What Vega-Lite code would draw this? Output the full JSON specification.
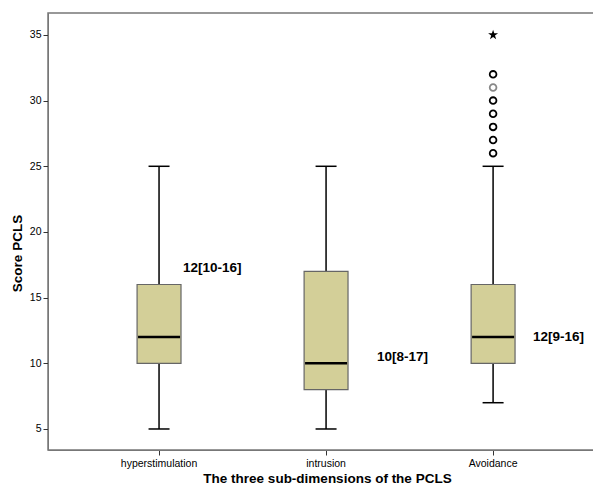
{
  "$schema": "https://vega.github.io/schema/vega-lite/v6.json",
  "width": 547,
  "height": 437,
  "autosize": {"type": "none"},
  "padding": {"left": 48, "top": 13, "right": 0, "bottom": 37},
  "background": "white",
  "config": {
    "view": {"stroke": "#777", "strokeWidth": 1.5},
    "font": "Liberation Sans",
    "axis": {"domainColor": "#777", "tickColor": "#333", "labelColor": "#000", "titleColor": "#000", "grid": false, "labelFont": "Liberation Sans", "titleFont": "Liberation Sans"}
  },
  "datasets": {
    "boxes": [
      {"dim": "hyperstimulation", "lower": 5, "q1": 10, "median": 12, "q3": 16, "upper": 25},
      {"dim": "intrusion", "lower": 5, "q1": 8, "median": 10, "q3": 17, "upper": 25},
      {"dim": "Avoidance", "lower": 7, "q1": 10, "median": 12, "q3": 16, "upper": 25}
    ],
    "outliers": [
      {"dim": "Avoidance", "value": 26, "kind": "outlier"},
      {"dim": "Avoidance", "value": 27, "kind": "outlier"},
      {"dim": "Avoidance", "value": 28, "kind": "outlier"},
      {"dim": "Avoidance", "value": 29, "kind": "outlier"},
      {"dim": "Avoidance", "value": 30, "kind": "outlier"},
      {"dim": "Avoidance", "value": 31, "kind": "faint"},
      {"dim": "Avoidance", "value": 32, "kind": "outlier"},
      {"dim": "Avoidance", "value": 35, "kind": "extreme"}
    ],
    "labels": [
      {"dim": "hyperstimulation", "label": "12[10-16]", "y": 17.25},
      {"dim": "intrusion", "label": "10[8-17]", "y": 10.47},
      {"dim": "Avoidance", "label": "12[9-16]", "y": 12}
    ]
  },
  "data": {"name": "boxes"},
  "encoding": {
    "x": {
      "field": "dim", "type": "nominal", "sort": ["hyperstimulation", "intrusion", "Avoidance"],
      "scale": {"paddingInner": 0.737, "paddingOuter": 0.506, "align": 0.527},
      "axis": {"title": "The three sub-dimensions of the PCLS", "labelAngle": 0, "labelFontSize": 10.5, "labelPadding": 3, "tickSize": 5, "titleFontSize": 13.5, "titleFontWeight": "bold", "titlePadding": 3, "titleX": 279, "titleAnchor": "middle"}
    },
    "y": {
      "type": "quantitative",
      "scale": {"domain": [3.4, 36.67], "nice": false, "zero": false},
      "axis": {"title": "Score PCLS", "values": [5, 10, 15, 20, 25, 30, 35], "labelFontSize": 10.5, "tickSize": 5, "labelPadding": 2, "titleFontSize": 13.5, "titleFontWeight": "bold", "titlePadding": 5, "titleY": 240}
    }
  },
  "layer": [
    {"mark": {"type": "rule", "color": "#000", "strokeWidth": 1.5}, "encoding": {"y": {"field": "lower", "type": "quantitative"}, "y2": {"field": "q1"}}},
    {"mark": {"type": "rule", "color": "#000", "strokeWidth": 1.5}, "encoding": {"y": {"field": "q3", "type": "quantitative"}, "y2": {"field": "upper"}}},
    {"mark": {"type": "tick", "color": "#000", "size": 21, "thickness": 1.5, "opacity": 1}, "encoding": {"y": {"field": "lower", "type": "quantitative"}}},
    {"mark": {"type": "tick", "color": "#000", "size": 21, "thickness": 1.5, "opacity": 1}, "encoding": {"y": {"field": "upper", "type": "quantitative"}}},
    {"mark": {"type": "bar", "fill": "#d3cf98", "stroke": "#666", "strokeWidth": 1.2}, "encoding": {"y": {"field": "q1", "type": "quantitative"}, "y2": {"field": "q3"}}},
    {"mark": {"type": "tick", "color": "#000", "size": 42, "thickness": 2.5, "opacity": 1}, "encoding": {"y": {"field": "median", "type": "quantitative"}}},
    {
      "data": {"name": "outliers"},
      "transform": [{"filter": "datum.kind !== 'extreme'"}],
      "mark": {"type": "point", "shape": "circle", "filled": false, "size": 45, "strokeWidth": 1.8, "opacity": 1},
      "encoding": {
        "y": {"field": "value", "type": "quantitative"},
        "color": {"field": "kind", "type": "nominal", "scale": {"domain": ["outlier", "faint"], "range": ["#000", "#888"]}, "legend": null}
      }
    },
    {
      "data": {"name": "outliers"},
      "transform": [{"filter": "datum.kind === 'extreme'"}],
      "mark": {"type": "point", "shape": "M0,-1L0.2245,-0.309L0.951,-0.309L0.363,0.118L0.588,0.809L0,0.382L-0.588,0.809L-0.363,0.118L-0.951,-0.309L-0.2245,-0.309Z", "filled": true, "size": 110, "color": "#000", "opacity": 1},
      "encoding": {"y": {"field": "value", "type": "quantitative"}}
    },
    {
      "data": {"name": "labels"},
      "transform": [{"filter": "datum.dim === 'hyperstimulation'"}],
      "mark": {"type": "text", "align": "left", "baseline": "middle", "dx": 24, "fontSize": 13.5, "fontWeight": "bold", "color": "#000"},
      "encoding": {"y": {"field": "y", "type": "quantitative"}, "text": {"field": "label"}}
    },
    {
      "data": {"name": "labels"},
      "transform": [{"filter": "datum.dim === 'intrusion'"}],
      "mark": {"type": "text", "align": "left", "baseline": "middle", "dx": 51, "fontSize": 13.5, "fontWeight": "bold", "color": "#000"},
      "encoding": {"y": {"field": "y", "type": "quantitative"}, "text": {"field": "label"}}
    },
    {
      "data": {"name": "labels"},
      "transform": [{"filter": "datum.dim === 'Avoidance'"}],
      "mark": {"type": "text", "align": "left", "baseline": "middle", "dx": 40, "fontSize": 13.5, "fontWeight": "bold", "color": "#000"},
      "encoding": {"y": {"field": "y", "type": "quantitative"}, "text": {"field": "label"}}
    }
  ]
}
